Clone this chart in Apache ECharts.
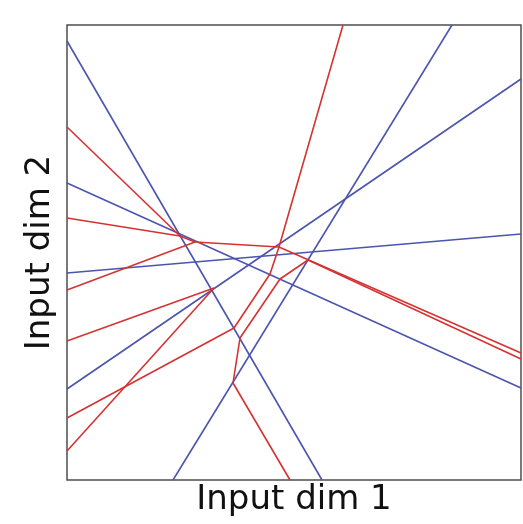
<!DOCTYPE html>
<html>
<head>
<meta charset="utf-8">
<script src="https://cdn.jsdelivr.net/npm/echarts@6/dist/echarts.min.js"></script>
<style>
html,body{margin:0;padding:0;background:#fff;}
#chart{width:523px;height:524px;}
</style>
</head>
<body>
<div id="chart"></div>
<script>
// Axis extents (input space, arbitrary units)
const xRange = [0, 454];
const yRange = [0, 455];
const xLabel = 'Input dim 1';
const yLabel = 'Input dim 2';

// First-layer boundaries (straight lines, blue)
const blue1 = [[0, 439], [255, 0]];
const blue2 = [[0, 297], [454, 92]];
const blue3 = [[0, 207], [454, 246]];
const blue4 = [[0, 91], [454, 401]];
const blue5 = [[106, 0], [385, 455]];

// Second-layer boundaries (piecewise linear, red)
const red1 = [[0, 353], [113, 244]];
const red2 = [[0, 262], [113, 244], [128, 238], [212, 233], [454, 127]];
const red3 = [[0, 190], [128, 238]];
const red4 = [[276, 455], [212, 233], [203, 206], [167, 152], [0, 62]];
const red5 = [[454, 121], [241, 220], [213, 201], [173, 142], [166, 97], [223, 0]];
const red6 = [[0, 139], [147, 192], [0, 29]];

const blueLines = [blue1, blue2, blue3, blue4, blue5];
const redLines = [red1, red2, red3, red4, red5, red6];

const BLUE = '#4b55ad';
const RED = '#d63232';

function mk(data, color) {
  return {
    type: 'line', data: data, showSymbol: false, symbol: 'none',
    silent: true, animation: false,
    lineStyle: { color: color, width: 1.6 }
  };
}

const series = [];
blueLines.forEach(d => series.push(mk(d, BLUE)));
redLines.forEach(d => series.push(mk(d, RED)));

const chart = echarts.init(document.getElementById('chart'), null, { renderer: 'canvas' });
chart.setOption({
  animation: false,
  backgroundColor: '#fff',
  grid: { left: 67, top: 25, right: 2, bottom: 44, show: true, borderColor: '#4d4d4d', borderWidth: 1.5, backgroundColor: 'transparent' },
  xAxis: {
    type: 'value', min: xRange[0], max: xRange[1],
    name: xLabel, nameLocation: 'middle', nameGap: 3,
    nameTextStyle: { fontFamily: 'DejaVu Sans', fontSize: 34, color: '#111', verticalAlign: 'top' },
    axisLine: { show: false }, axisTick: { show: false }, axisLabel: { show: false }, splitLine: { show: false }
  },
  yAxis: {
    type: 'value', min: yRange[0], max: yRange[1],
    name: yLabel, nameLocation: 'middle', nameGap: 10,
    nameTextStyle: { fontFamily: 'DejaVu Sans', fontSize: 34, color: '#111' },
    axisLine: { show: false }, axisTick: { show: false }, axisLabel: { show: false }, splitLine: { show: false }
  },
  series: series
});
</script>
</body>
</html>
